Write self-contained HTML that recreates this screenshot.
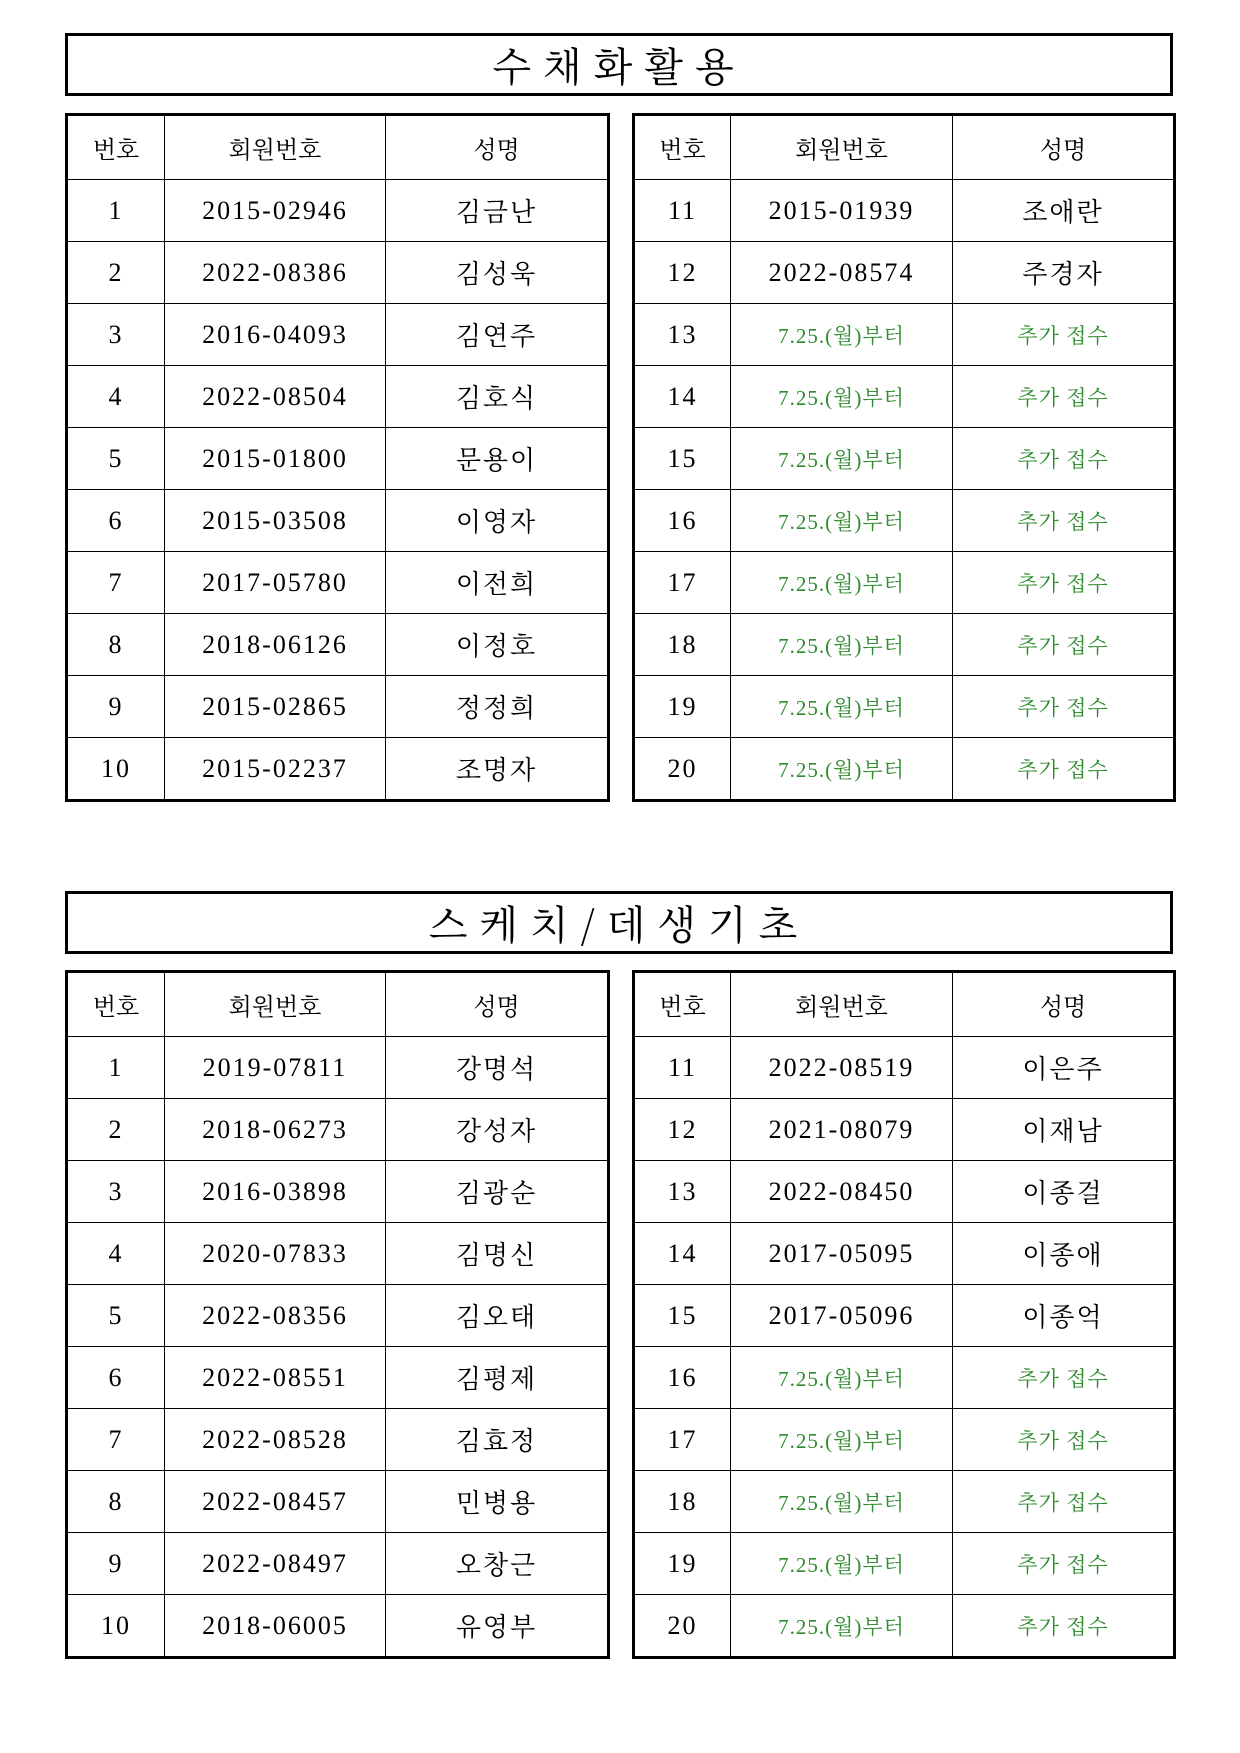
<!DOCTYPE html>
<html><head><meta charset="utf-8"><style>
body{margin:0;width:1240px;height:1753px;background:#fff;position:relative;font-family:"Liberation Serif","Noto Serif CJK SC",serif;color:#000}
.title{position:absolute;left:65px;width:1102px;height:57px;border:3px solid #000;text-align:center;font-size:40px;line-height:57px;letter-spacing:12px;font-family:"Noto Serif CJK SC",serif}
table{position:absolute;border-collapse:collapse;border:3px solid #000;table-layout:fixed}
td{border:1.5px solid #000;text-align:center;height:61px;font-size:26px;letter-spacing:2px;padding:0}
tr.h td{height:63px;font-size:24px;font-family:"Noto Serif CJK SC",serif;letter-spacing:0}
.g{color:#2e8b2e;font-size:21px;letter-spacing:1px}
</style></head><body>
<div class="title" style="top:33px">수채화활용</div>
<table style="left:65px;top:113px;width:542px">
<colgroup><col style="width:98px"><col style="width:221px"><col style="width:223px"></colgroup>
<tr class="h"><td>번호</td><td>회원번호</td><td>성명</td></tr>
<tr><td>1</td><td>2015-02946</td><td>김금난</td></tr>
<tr><td>2</td><td>2022-08386</td><td>김성욱</td></tr>
<tr><td>3</td><td>2016-04093</td><td>김연주</td></tr>
<tr><td>4</td><td>2022-08504</td><td>김호식</td></tr>
<tr><td>5</td><td>2015-01800</td><td>문용이</td></tr>
<tr><td>6</td><td>2015-03508</td><td>이영자</td></tr>
<tr><td>7</td><td>2017-05780</td><td>이전희</td></tr>
<tr><td>8</td><td>2018-06126</td><td>이정호</td></tr>
<tr><td>9</td><td>2015-02865</td><td>정정희</td></tr>
<tr><td>10</td><td>2015-02237</td><td>조명자</td></tr>
</table>
<table style="left:632px;top:113px;width:541px">
<colgroup><col style="width:97px"><col style="width:222px"><col style="width:222px"></colgroup>
<tr class="h"><td>번호</td><td>회원번호</td><td>성명</td></tr>
<tr><td>11</td><td>2015-01939</td><td>조애란</td></tr>
<tr><td>12</td><td>2022-08574</td><td>주경자</td></tr>
<tr><td>13</td><td class="g">7.25.(월)부터</td><td class="g">추가 접수</td></tr>
<tr><td>14</td><td class="g">7.25.(월)부터</td><td class="g">추가 접수</td></tr>
<tr><td>15</td><td class="g">7.25.(월)부터</td><td class="g">추가 접수</td></tr>
<tr><td>16</td><td class="g">7.25.(월)부터</td><td class="g">추가 접수</td></tr>
<tr><td>17</td><td class="g">7.25.(월)부터</td><td class="g">추가 접수</td></tr>
<tr><td>18</td><td class="g">7.25.(월)부터</td><td class="g">추가 접수</td></tr>
<tr><td>19</td><td class="g">7.25.(월)부터</td><td class="g">추가 접수</td></tr>
<tr><td>20</td><td class="g">7.25.(월)부터</td><td class="g">추가 접수</td></tr>
</table>
<div class="title" style="top:891px">스케치/데생기초</div>
<table style="left:65px;top:970px;width:542px">
<colgroup><col style="width:98px"><col style="width:221px"><col style="width:223px"></colgroup>
<tr class="h"><td>번호</td><td>회원번호</td><td>성명</td></tr>
<tr><td>1</td><td>2019-07811</td><td>강명석</td></tr>
<tr><td>2</td><td>2018-06273</td><td>강성자</td></tr>
<tr><td>3</td><td>2016-03898</td><td>김광순</td></tr>
<tr><td>4</td><td>2020-07833</td><td>김명신</td></tr>
<tr><td>5</td><td>2022-08356</td><td>김오태</td></tr>
<tr><td>6</td><td>2022-08551</td><td>김평제</td></tr>
<tr><td>7</td><td>2022-08528</td><td>김효정</td></tr>
<tr><td>8</td><td>2022-08457</td><td>민병용</td></tr>
<tr><td>9</td><td>2022-08497</td><td>오창근</td></tr>
<tr><td>10</td><td>2018-06005</td><td>유영부</td></tr>
</table>
<table style="left:632px;top:970px;width:541px">
<colgroup><col style="width:97px"><col style="width:222px"><col style="width:222px"></colgroup>
<tr class="h"><td>번호</td><td>회원번호</td><td>성명</td></tr>
<tr><td>11</td><td>2022-08519</td><td>이은주</td></tr>
<tr><td>12</td><td>2021-08079</td><td>이재남</td></tr>
<tr><td>13</td><td>2022-08450</td><td>이종걸</td></tr>
<tr><td>14</td><td>2017-05095</td><td>이종애</td></tr>
<tr><td>15</td><td>2017-05096</td><td>이종억</td></tr>
<tr><td>16</td><td class="g">7.25.(월)부터</td><td class="g">추가 접수</td></tr>
<tr><td>17</td><td class="g">7.25.(월)부터</td><td class="g">추가 접수</td></tr>
<tr><td>18</td><td class="g">7.25.(월)부터</td><td class="g">추가 접수</td></tr>
<tr><td>19</td><td class="g">7.25.(월)부터</td><td class="g">추가 접수</td></tr>
<tr><td>20</td><td class="g">7.25.(월)부터</td><td class="g">추가 접수</td></tr>
</table>
</body></html>
